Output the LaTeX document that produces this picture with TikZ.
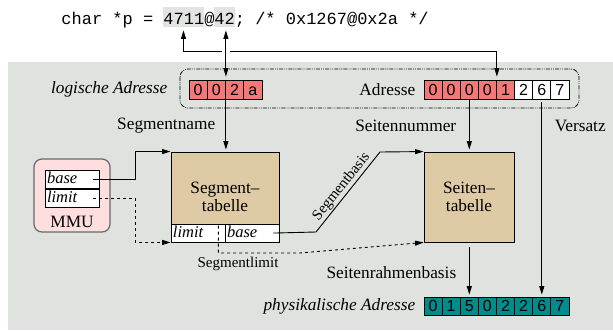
\documentclass[tikz,border=0pt]{standalone}
\usepackage{fontspec}
\setmainfont{Liberation Serif}
\newfontfamily\cellfont{Liberation Sans}
\newfontfamily\codefont{Liberation Mono}
\usetikzlibrary{arrows.meta}
\definecolor{bggray}{RGB}{223,226,222}
\definecolor{hlgray}{RGB}{225,228,225}
\definecolor{pinkcell}{RGB}{245,120,120}
\definecolor{tealcell}{RGB}{0,140,140}
\definecolor{tanbox}{RGB}{222,203,166}
\definecolor{mmufill}{RGB}{255,222,224}
\definecolor{mmuborder}{RGB}{105,105,105}
\begin{document}
\begin{tikzpicture}[x=1pt,y=-1pt,
  >={Triangle[length=8.5pt,width=5pt]},
  every node/.style={font=\fontsize{17.3}{18}\selectfont},
  line width=0.9pt,
  cellbox/.style={draw, line width=0.8pt, minimum width=18.2pt, minimum height=19pt,
    inner sep=0pt, text height=11.5pt, text depth=0pt, font=\cellfont\fontsize{16}{18}\selectfont},
  slot/.style={draw, fill=white, line width=0.8pt, minimum height=18pt, inner xsep=2pt,
    inner ysep=0pt, text width=50pt, align=left, text height=11pt, text depth=3pt,
    font=\itshape\fontsize{16.5}{18}\selectfont},
  tablebox/.style={draw, fill=tanbox, line width=0.9pt, inner sep=0pt, align=center},
  hl/.style={fill=hlgray, inner sep=0pt, minimum height=20pt},
  small/.style={font=\fontsize{15}{16}\selectfont},
  dashdot/.style={line width=0.8pt, dash pattern=on 4pt off 1.2pt on 0.8pt off 1.2pt on 0.8pt off 1.2pt}
]
\useasboundingbox (0,0) rectangle (613,330);
\fill[bggray] (8,62) rectangle (613,330);

% code line
\node[hl, minimum width=41pt] (p4711) at (183.5,17) {};
\node[hl, minimum width=20.5pt] (p42) at (224.3,17) {};
\node[anchor=base west, inner sep=0pt, font=\codefont\fontsize{17}{20}\selectfont] (code) at (61,24)
  {char *p = 4711@42; /* 0x1267@0x2a */};

% address group frame
\draw[dashdot, rounded corners=8pt] (180,69) rectangle (579,108);

% logical address
\foreach \t [count=\i] in {0,0,2,a}
  \node[cellbox, fill=pinkcell, minimum width=18.25pt] (la\i) at ({189+18.25*(\i-0.5)},89.5) {\t};
\node[anchor=east, font=\itshape\fontsize{17.3}{18}\selectfont] (lalabel) at (171,89.5) {logische Adresse};

% address
\foreach \t [count=\i] in {0,0,0,0,1,2,6,7}{
  \ifnum\i<6
    \node[cellbox, fill=pinkcell, minimum width=18.125pt] (a\i) at ({424+18.125*(\i-0.5)},89.5) {\t};
  \else
    \node[cellbox, fill=white, minimum width=18.125pt] (a\i) at ({424+18.125*(\i-0.5)},89.5) {\t};
  \fi}
\node[anchor=east] (alabel) at (419,89.5) {Adresse};

% physical address
\foreach \t [count=\i] in {0,1,5,0,2,2,6,7}
  \node[cellbox, fill=tealcell, minimum width=18.125pt, minimum height=18pt] (p\i) at ({424+18.125*(\i-0.5)},306) {\t};
\node[anchor=east, font=\itshape\fontsize{17.3}{18}\selectfont] (plabel) at (419,306) {physikalische Adresse};

% tables
\node[tablebox, minimum width=108pt, minimum height=90pt] (st) at (225,197) {Segment–\\tabelle};
\node[slot, anchor=south west] (stl) at (st.south west) {limit};
\node[slot, anchor=south east] (stb) at (st.south east) {base};
\node[tablebox, minimum width=90pt, minimum height=90pt] (pt) at (469,197) {Seiten–\\tabelle};

% MMU
\node[draw=mmuborder, fill=mmufill, line width=1.2pt, rounded corners=8pt,
  minimum width=76pt, minimum height=73pt] (mmu) at (72,195.5) {};
\node[slot, anchor=north] (mb) at (72,170) {base};
\node[slot, anchor=north] (ml) at (mb.south) {limit};
\node (mmulabel) at (72,222) {MMU};

% code connectors
\coordinate (jn) at (300,51.7);
\draw[<->, shorten <=3pt, shorten >=3pt] (a4.north east) |- (jn) -| (p4711.south);
\path (la2.north east |- jn) coordinate (cx);
\fill[white] ([xshift=-4pt,yshift=-2pt]cx) rectangle ([xshift=4pt,yshift=2pt]cx);
\draw[<->, shorten <=3pt, shorten >=3pt] (la2.north east) -- (la2.north east |- p42.south);

% flow connectors
\draw[->, shorten >=2pt] (la2.south east) -- (la2.south east |- st.north);
\node[anchor=east] (segname) at (219,126) {Segmentname};

\draw[->, shorten >=2pt] (a3.south) -- (a3.south |- pt.north);
\node[anchor=east] (seitnr) at (460,126) {Seitennummer};

\draw[->, shorten <=3pt, shorten >=2pt] (a7.south) -- (p7.north);
\node[anchor=west] (versatz) at (551,126) {Versatz};

\draw[->, shorten <=5pt, shorten >=2pt] (pt.south -| p3.north) -- (p3.north);
\node[anchor=east] (srb) at (460,273) {Seitenrahmenbasis};

% MMU connectors
\draw[->] ([xshift=-6pt]mb.east) -- ++(42,0) |- (st.north west);
\draw[->, dashed] ([xshift=-6pt]ml.east) -- ++(42,0) |- (stl.south west);

% segment limit / base
\coordinate (slc) at (300,253);
\draw[->, dashed] ([xshift=-7pt,yshift=-2pt]stl.north east) |- (slc) -- (pt.south west);
\node[small] (sllabel) at (238,264) {Segmentlimit};

\coordinate (sb1) at (316,232);
\coordinate (sb2) at (380,152);
\draw[->] ([xshift=-6pt]stb.east) -- (sb1) -- node[small, sloped, above, inner sep=1pt] (sblabel) {Segmentbasis} (sb2) -- (pt.north west);
\end{tikzpicture}
\end{document}
